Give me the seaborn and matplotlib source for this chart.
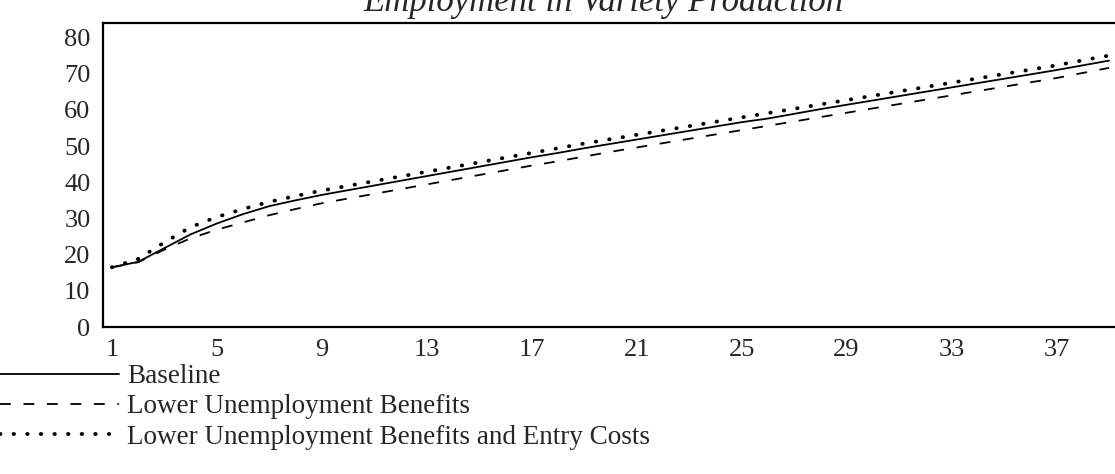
import matplotlib
matplotlib.use("Agg")
import matplotlib.pyplot as plt
import seaborn as sns
import pandas as pd

# periods 1..39
periods = list(range(1, 40))
baseline = [16.5, 18.0, 21.8, 25.6, 28.6, 31.2, 33.4, 35.0, 36.5, 37.8,
            39.1, 40.4, 41.7, 43.0, 44.3, 45.6, 46.9, 48.1, 49.4, 50.6,
            51.8, 53.0, 54.2, 55.4, 56.6, 57.6, 58.9, 60.2, 61.4, 62.6,
            63.8, 65.0, 66.2, 67.4, 68.6, 69.8, 71.0, 72.3, 73.6]
lower_ub = [16.5, 17.9, 21.4, 24.5, 26.9, 28.9, 30.9, 32.6, 34.2, 35.5,
            36.8, 38.1, 39.4, 40.7, 42.0, 43.3, 44.6, 45.8, 47.1, 48.4,
            49.6, 50.8, 52.0, 53.2, 54.4, 55.6, 56.8, 58.0, 59.2, 60.4,
            61.6, 62.8, 64.0, 65.2, 66.4, 67.6, 68.8, 70.2, 71.6]
lower_ub_ec = [16.5, 18.8, 23.4, 27.6, 30.4, 32.6, 34.6, 36.2, 37.7, 39.0,
               40.3, 41.6, 42.9, 44.2, 45.5, 46.8, 48.1, 49.4, 50.7, 51.9,
               53.1, 54.3, 55.5, 56.7, 57.9, 59.1, 60.3, 61.5, 62.7, 63.9,
               65.1, 66.3, 67.5, 68.7, 69.9, 71.1, 72.3, 73.7, 75.0]
xticks = [1, 5, 9, 13, 17, 21, 25, 29, 33, 37]
yticks = [0, 10, 20, 30, 40, 50, 60, 70, 80]

labels = ["Baseline", "Lower Unemployment Benefits",
          "Lower Unemployment Benefits and Entry Costs"]

df = pd.DataFrame({"period": periods, labels[0]: baseline,
                   labels[1]: lower_ub, labels[2]: lower_ub_ec})

sns.set_style("white")
plt.rcParams["font.family"] = ["Liberation Serif", "DejaVu Serif"]

fig = plt.figure(figsize=(11.15, 4.74), dpi=100)
ax = fig.add_axes([103 / 1115, 1 - 327 / 474, 1027 / 1115, 304 / 474])

sns.lineplot(data=df, x="period", y=labels[0], ax=ax, color="black",
             lw=1.3, label=labels[0])
sns.lineplot(data=df, x="period", y=labels[1], ax=ax, color="black",
             lw=1.3, linestyle=(0, (6, 7)), label=labels[1])
sns.lineplot(data=df, x="period", y=labels[2], ax=ax, color="black",
             lw=2.8, linestyle=(0, (0.1, 3.4)), dash_capstyle="round",
             label=labels[2])

ax.set_xlim(0.66, 39.8)
ax.set_ylim(0, 84)
ax.set_xticks(xticks)
ax.set_yticks(yticks)
ax.set_xlabel("")
ax.set_ylabel("")
ax.tick_params(axis="both", length=0, labelsize=19)
ax.tick_params(axis="x", pad=9)
ax.tick_params(axis="y", pad=9)
for s in ax.spines.values():
    s.set_visible(True)
    s.set_color("black")
    s.set_linewidth(1.6)

leg = ax.legend(loc="upper left", bbox_to_anchor=(0.0, 1 - 364 / 474),
                bbox_transform=fig.transFigure, frameon=False, fontsize=19.5,
                handlelength=4.4, handletextpad=0.3, labelspacing=0.2,
                borderpad=0, borderaxespad=0)
for line in leg.get_lines():
    line.set_color("black")

fig.text(603 / 1115, 1 - 11 / 474, "Employment in Variety Production",
         ha="center", va="baseline", fontsize=25, style="italic")

fig.savefig("out.png", dpi=100)
